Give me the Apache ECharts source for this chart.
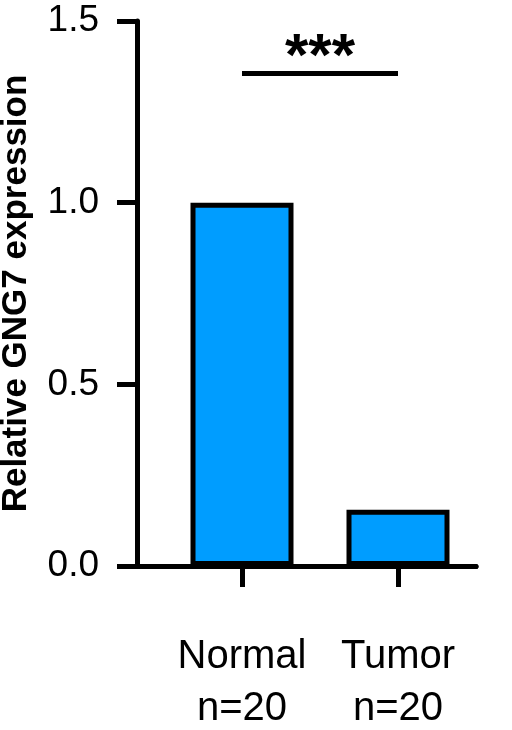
<!DOCTYPE html>
<html>
<head>
<meta charset="utf-8">
<script src="https://cdn.jsdelivr.net/npm/echarts@6/dist/echarts.min.js"></script>
<style>
  html, body { margin: 0; padding: 0; background: #fff; }
  #chart { width: 512px; height: 730px; }
</style>
</head>
<body>
<div id="chart"></div>
<script>
// data
var categories = ['Normal', 'Tumor'];
var sampleSizes = [20, 20];
var expression = [1.0, 0.155];
var yTicks = [0, 0.5, 1.0, 1.5];
var sigLevel = 1.355;
var sigText = '***';

var font = 'Liberation Sans, Arial, sans-serif';
var chart = echarts.init(document.getElementById('chart'));

chart.setOption({
    animation: false,
    backgroundColor: '#fff',
    grid: [
        { left: 164, right: 36, top: 21, bottom: 164, outerBoundsMode: 'none' },
        // second grid only carries the x axis line that reaches back to the y axis
        { left: 135, right: 36, top: 21, bottom: 164, outerBoundsMode: 'none' }
    ],
    xAxis: [{
        type: 'category',
        gridIndex: 0,
        data: categories,
        axisLine: { show: true, lineStyle: { color: '#000', width: 5 } },
        axisTick: { show: true, alignWithLabel: true, length: 21, lineStyle: { color: '#000', width: 5 } },
        axisLabel: {
            interval: 0,
            margin: 65,
            color: '#000',
            fontFamily: font,
            fontSize: 40,
            lineHeight: 52,
            formatter: function (v, i) {
                return v + '\nn=' + sampleSizes[i];
            }
        },
        splitLine: { show: false }
    }, {
        type: 'value',
        gridIndex: 1,
        min: 0,
        max: 1,
        axisLine: { show: true, onZero: false, lineStyle: { color: '#000', width: 5 } },
        axisTick: { show: false },
        axisLabel: { show: false },
        splitLine: { show: false }
    }],
    yAxis: [{
        type: 'value',
        gridIndex: 0,
        min: yTicks[0],
        max: yTicks[yTicks.length - 1],
        interval: yTicks[1] - yTicks[0],
        offset: 27,
        name: 'Relative GNG7 expression',
        nameLocation: 'middle',
        nameGap: 103,
        nameTextStyle: { fontFamily: font, fontSize: 35, fontWeight: 'bold', color: '#000' },
        axisLine: { show: true, lineStyle: { color: '#000', width: 5 } },
        axisTick: { show: true, length: 20, lineStyle: { color: '#000', width: 5 } },
        axisLabel: {
            margin: 38,
            color: '#000',
            fontFamily: font,
            fontSize: 37,
            formatter: function (v) { return v.toFixed(1); }
        },
        splitLine: { show: false }
    }, {
        type: 'value',
        gridIndex: 1,
        show: false,
        min: 0,
        max: 1
    }],
    series: [{
        type: 'bar',
        xAxisIndex: 0,
        yAxisIndex: 0,
        data: expression,
        barWidth: 103,
        itemStyle: { color: '#009DFF', borderColor: '#000', borderWidth: 5 },
        markLine: {
            silent: true,
            symbol: 'none',
            lineStyle: { color: '#000', width: 5, type: 'solid' },
            label: {
                show: true,
                position: 'insideMiddleTop',
                formatter: sigText,
                color: '#000',
                fontFamily: font,
                fontSize: 60,
                fontWeight: 'bold',
                distance: -15
            },
            data: [[
                { coord: [categories[0], sigLevel] },
                { coord: [categories[1], sigLevel] }
            ]]
        }
    }]
});
</script>
</body>
</html>
